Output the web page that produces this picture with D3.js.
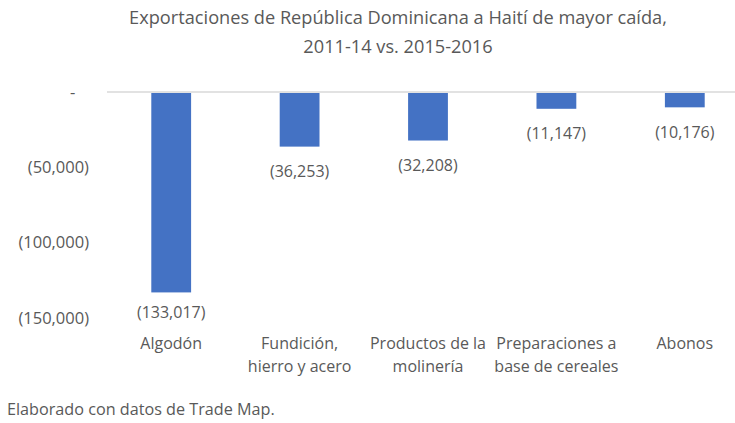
<!DOCTYPE html>
<html>
<head>
<meta charset="utf-8">
<script src="https://cdn.jsdelivr.net/npm/d3@7"></script>
<style>
  body { margin: 0; background: #fff; }
  svg text { font-family: "Open Sans", sans-serif; fill: #595959; }
</style>
</head>
<body>
<svg width="735" height="423"></svg>
<script>
// data
var categories = ["Algodón", "Fundición, hierro y acero", "Productos de la molinería",
                  "Preparaciones a base de cereales", "Abonos"];
var categoryLines = [["Algodón"], ["Fundición,", "hierro y acero"], ["Productos de la", "molinería"],
                     ["Preparaciones a", "base de cereales"], ["Abonos"]];
var values = [-133017, -36253, -32208, -11147, -10176];
var yTicks = [0, -50000, -100000, -150000];
var titleLines = ["Exportaciones de República Dominicana a Haití de mayor caída,", "2011-14 vs. 2015-2016"];
var note = "Elaborado con datos de Trade Map.";

var svg = d3.select("svg");

var x = d3.scaleBand()
    .domain(categories)
    .range([107, 749])
    .paddingInner(0.69)
    .paddingOuter(0.345);

var y = d3.scaleLinear()
    .domain([-150000, 0])
    .range([318, 92]);

var fmt = d3.format(",");
function acct(v) {
    if (v === 0) return "-\u2007\u2008";
    return v < 0 ? "(" + fmt(-v) + ")" : fmt(v) + "\u2007";
}

// title
svg.append("g").selectAll("text")
    .data(titleLines)
    .enter().append("text")
      .attr("x", 398)
      .attr("y", function(d, i) { return 18 + i * 29; })
      .attr("dy", "0.35em")
      .attr("text-anchor", "middle")
      .attr("font-size", 18.2)
      .text(function(d) { return d; });

// y axis (labels only)
var yAxis = svg.append("g")
    .attr("transform", "translate(89,0)")
    .call(d3.axisLeft(y).tickValues(yTicks).tickFormat(acct).tickSize(0).tickPadding(0));
yAxis.select(".domain").remove();
yAxis.selectAll("text")
    .attr("font-size", 16.5)
    .attr("fill", "#595959")
    .style("font-family", "'Open Sans', sans-serif");

// zero line
svg.append("line")
    .attr("x1", 107).attr("x2", 735)
    .attr("y1", y(0)).attr("y2", y(0))
    .attr("stroke", "#D9D9D9")
    .attr("stroke-width", 1.5);

// bars
svg.append("g").selectAll("rect")
    .data(values)
    .enter().append("rect")
      .attr("x", function(d, i) { return x(categories[i]); })
      .attr("y", y(0) + 1)
      .attr("width", x.bandwidth())
      .attr("height", function(d) { return y(d) - y(0) - 1; })
      .attr("fill", "#4472C4");

// data labels (kept inside the plot area)
svg.append("g").selectAll("text")
    .data(values)
    .enter().append("text")
      .attr("x", function(d, i) { return x(categories[i]) + x.bandwidth() / 2; })
      .attr("y", function(d) { return Math.min(y(d) + 25, y(-150000) - 6); })
      .attr("dy", "0.35em")
      .attr("text-anchor", "middle")
      .attr("font-size", 16)
      .text(acct);

// category labels
var cat = svg.append("g").selectAll("text")
    .data(categoryLines)
    .enter().append("text")
      .attr("text-anchor", "middle")
      .attr("font-size", 16)
      .attr("transform", function(d, i) {
          return "translate(" + (x(categories[i]) + x.bandwidth() / 2) + ",343)";
      });
cat.selectAll("tspan")
    .data(function(d) { return d; })
    .enter().append("tspan")
      .attr("x", 0)
      .attr("y", function(d, i) { return i * 23; })
      .attr("dy", "0.35em")
      .text(function(d) { return d; });

// source note
svg.append("text")
    .attr("x", 7)
    .attr("y", 409)
    .attr("dy", "0.35em")
    .attr("font-size", 16.2)
    .text(note);
</script>
</body>
</html>
